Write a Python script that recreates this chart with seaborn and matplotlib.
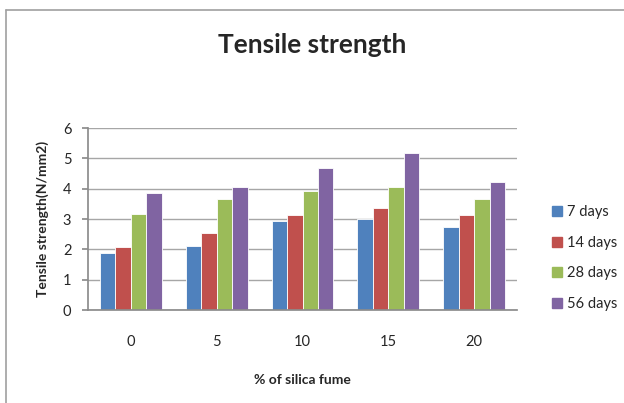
import matplotlib
matplotlib.use("Agg")
import matplotlib.pyplot as plt
import seaborn as sns
import pandas as pd
from matplotlib.lines import Line2D

silica = ["0", "5", "10", "15", "20"]
days_7 = [1.87, 2.12, 2.94, 2.99, 2.74]
days_14 = [2.08, 2.53, 3.12, 3.35, 3.12]
days_28 = [3.18, 3.67, 3.91, 4.06, 3.65]
days_56 = [3.86, 4.06, 4.67, 5.17, 4.21]
series_names = ["7 days", "14 days", "28 days", "56 days"]
colors = ["#4F81BD", "#C0504D", "#9BBB59", "#8064A2"]

rows = []
for name, vals in zip(series_names, [days_7, days_14, days_28, days_56]):
    for s, v in zip(silica, vals):
        rows.append({"silica": s, "value": v, "series": name})
df = pd.DataFrame(rows)

sns.set_theme(style="white")
plt.rcParams["font.family"] = ["Lato", "DejaVu Sans"]

fig = plt.figure(figsize=(6.24, 4.03), dpi=100)
ax = fig.add_axes([88/624, 1-310/403, (517-88)/624, (310-128)/403])

sns.barplot(data=df, x="silica", y="value", hue="series", order=silica,
            hue_order=series_names, palette=colors, width=0.72,
            saturation=1, ax=ax, legend=False, linewidth=0.6,
            edgecolor="#ffffff")

ax.set_ylim(0, 6)
ax.set_xlim(-0.5, 4.5)
ax.set_yticks(range(0, 7))
ax.yaxis.grid(True, color="#a6a6a6", linewidth=1)
ax.set_axisbelow(True)
for sp in ["top", "right"]:
    ax.spines[sp].set_visible(False)
ax.spines["left"].set_color("#8c8c8c")
ax.spines["bottom"].set_color("#8c8c8c")
ax.tick_params(axis="y", left=True, length=4, color="#8c8c8c", labelsize=10.5, pad=8)
ax.tick_params(axis="x", bottom=False, labelsize=10.5, pad=12)

ax.set_xlabel("% of silica fume", fontsize=10, fontweight="bold", labelpad=18)
ax.set_ylabel("Tensile strength(N/mm2)", fontsize=10, fontweight="bold", labelpad=10)
fig.text(0.5, 1-45/403, "Tensile strength", ha="center", va="center",
         fontsize=19, fontweight="bold")

handles = [Line2D([0], [0], marker="s", color="none", markerfacecolor=c,
                  markeredgecolor=c, markersize=7) for c in colors]
fig.legend(handles, series_names, loc="center left",
           bbox_to_anchor=(538/624, 1-258/403), frameon=False,
           handlelength=0.8, handletextpad=0.3, labelspacing=1.15, fontsize=10.5)

# chart border (left and top visible)
fig.add_artist(Line2D([6/624, 6/624], [0, 1-10/403], transform=fig.transFigure,
                      color="#a0a0a0", linewidth=1.2))
fig.add_artist(Line2D([6/624, 1], [1-10/403, 1-10/403], transform=fig.transFigure,
                      color="#a0a0a0", linewidth=1.2))

fig.savefig("out.png", dpi=100)
